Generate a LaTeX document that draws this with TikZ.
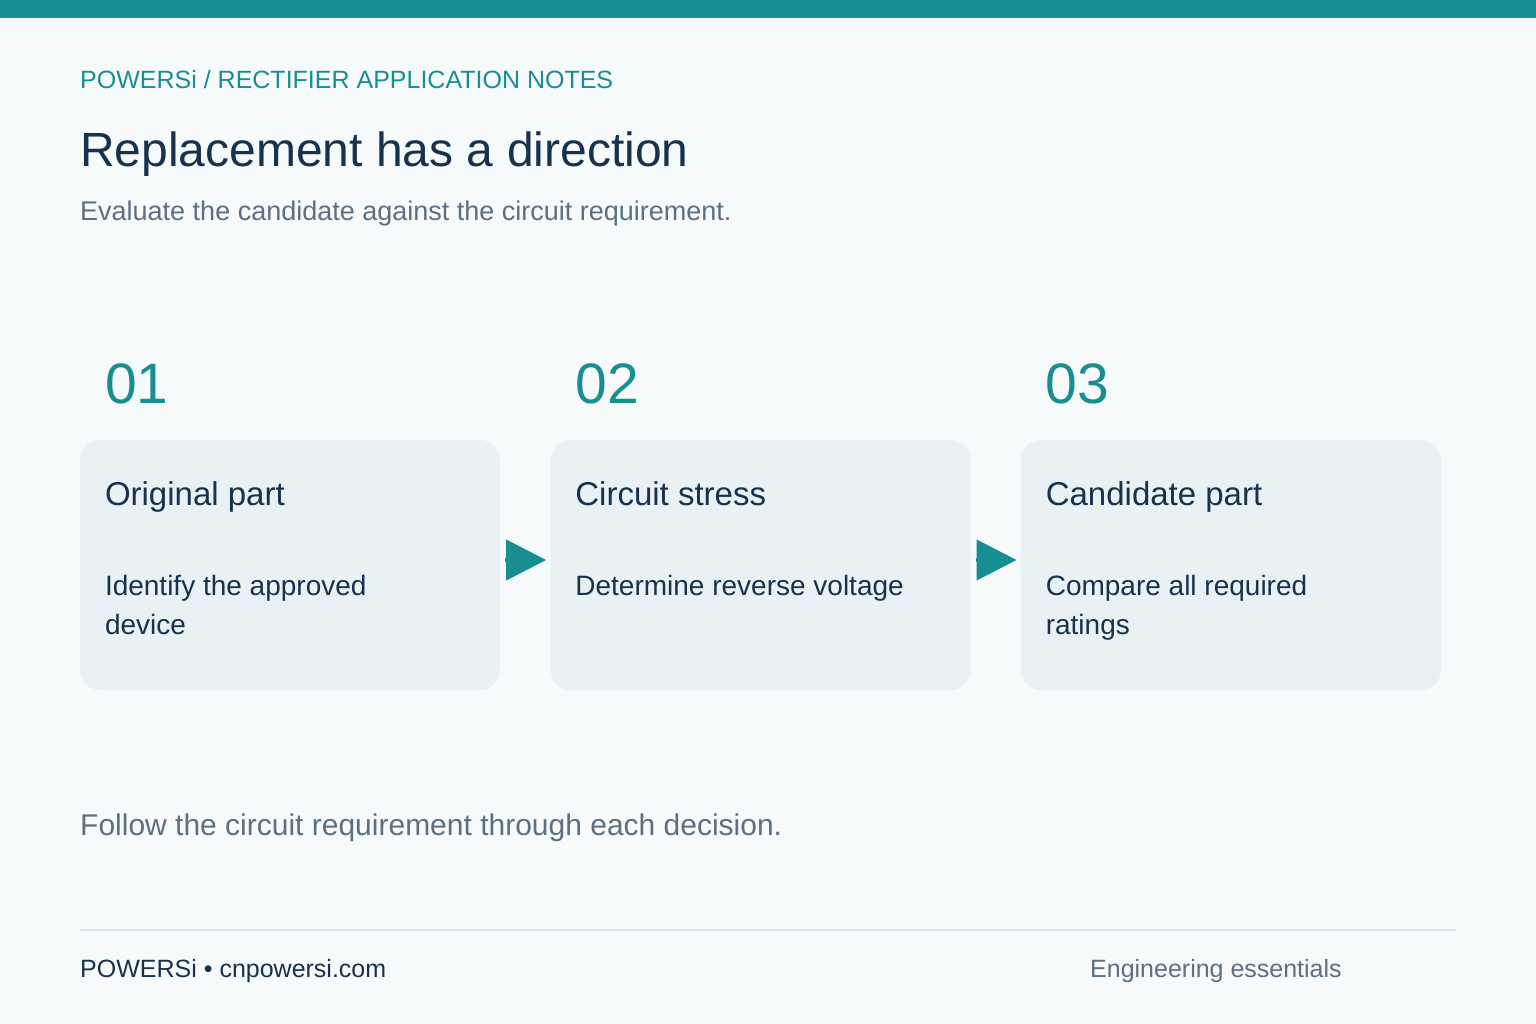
\documentclass[tikz,border=0pt]{standalone}
\usepackage{fontspec}
\setmainfont{Liberation Sans}
\usetikzlibrary{arrows.meta,positioning}
\definecolor{tealc}{HTML}{178E91}
\definecolor{ink}{HTML}{17324D}
\definecolor{mute}{HTML}{5B7083}
\definecolor{card}{HTML}{E9F1F4}
\definecolor{paper}{HTML}{F7FAFB}
\definecolor{rulec}{HTML}{DCE4E9}

\begin{document}
\begin{tikzpicture}[x=1pt, y=-1pt,
    card/.style={fill=card, rounded corners=20pt, minimum width=420pt, minimum height=250pt, inner sep=0pt},
    num/.style={anchor=base west, inner sep=0pt, text=tealc, font=\fontsize{57}{68}\selectfont},
    head/.style={anchor=base west, inner sep=0pt, text=ink, font=\fontsize{33}{39}\selectfont},
    body/.style={anchor=base west, inner sep=0pt, text=ink, align=left, font=\fontsize{28}{39}\selectfont},
    flow/.style={draw=tealc, line width=4pt, -{Triangle[length=40pt,width=40pt]}, shorten <=5pt, shorten >=4pt}]
        \useasboundingbox (0,0) rectangle (1536,1024); %
        \fill[paper] (0,0) rectangle (1536,1024); %
        \fill[tealc] (0,0) rectangle (1536,18); %
        % header
        \node[anchor=base west, inner sep=0pt, text=tealc, font=\fontsize{25}{30}\selectfont](kicker) at (80,89){POWERSi / RECTIFIER APPLICATION NOTES}; %
        \node[anchor=base west, inner sep=0pt, text=ink, font=\fontsize{48}{58}\selectfont](title) at (80,167){Replacement has a direction}; %
        \node[anchor=base west, inner sep=0pt, text=mute, font=\fontsize{27}{32}\selectfont](sub) at (80,221){Evaluate the candidate against the circuit requirement.}; %
        % cards
        \node[card](orig) at (290,565){}; %
        \node[card, right=50pt of orig](stress){}; %
        \node[card, right=50pt of stress](cand){}; %
        \node[num] (n1) at ([shift={(25,-36)}]orig.north west){01}; %
        \node[num] (n2) at ([shift={(25,-36)}]stress.north west){02}; %
        \node[num] (n3) at ([shift={(25,-36)}]cand.north west){03}; %
        \node[head] (h1) at ([shift={(25,66)}]orig.north west){Original part}; %
        \node[head] (h2) at ([shift={(25,66)}]stress.north west){Circuit stress}; %
        \node[head] (h3) at ([shift={(25,66)}]cand.north west){Candidate part}; %
        \node[body] (t1) at ([shift={(25,195)}]orig.north west){Identify the approved\\device}; %
        \node[body] (t2) at ([shift={(25,156)}]stress.north west){Determine reverse voltage}; %
        \node[body] (t3) at ([shift={(25,195)}]cand.north west){Compare all required\\ratings}; %
        \draw[flow] ([yshift=5pt]orig.east) -- ([yshift=5pt]stress.west); %
        \draw[flow] ([yshift=5pt]stress.east) -- ([yshift=5pt]cand.west); %
        % footer
        \node[anchor=base west, inner sep=0pt, text=mute, font=\fontsize{30}{36}\selectfont](note) at (80,835){Follow the circuit requirement through each decision.}; %
        \coordinate (r1) at (80,930); %
        \coordinate (r2) at (1456,930); %
        \draw[rulec, line width=1.5pt] (r1) -- (r2); %
        \node[anchor=base west, inner sep=0pt, text=ink, font=\fontsize{25}{30}\selectfont](site) at (80,977){POWERSi • cnpowersi.com}; %
        \node[anchor=base west, inner sep=0pt, text=mute, font=\fontsize{25}{30}\selectfont](tag) at (1090,977){Engineering essentials}; %
\end{tikzpicture}
\end{document}
